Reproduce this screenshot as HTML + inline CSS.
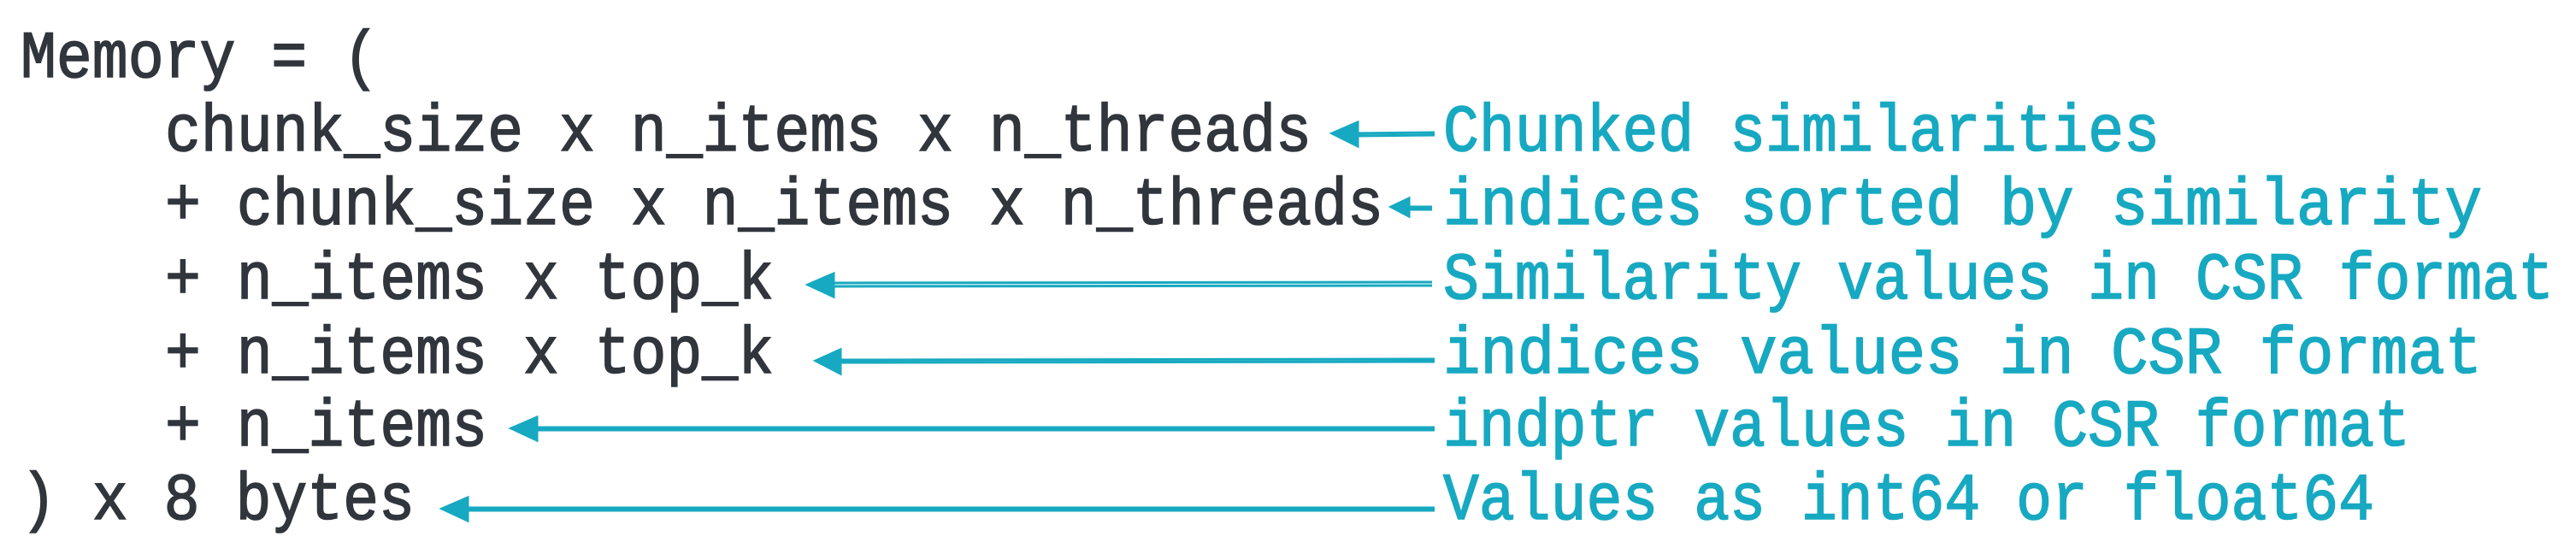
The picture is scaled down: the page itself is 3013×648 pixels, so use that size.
<!DOCTYPE html>
<html><head><meta charset="utf-8"><style>
html,body{margin:0;padding:0;background:#fff;}
svg{display:block;}
text{font-family:"Liberation Mono","DejaVu Sans Mono",monospace;font-size:78px;stroke-width:1.6px;}
.d{fill:#31353c;stroke:#31353c;}
.t{fill:#17a9c1;stroke:#17a9c1;}
</style></head><body>
<svg width="3013" height="648" viewBox="0 0 3013 648" xmlns="http://www.w3.org/2000/svg">
<text class="d" x="24" y="90" textLength="419" lengthAdjust="spacingAndGlyphs">Memory = (</text>
<text class="d" x="193" y="176" textLength="1341" lengthAdjust="spacingAndGlyphs">chunk_size x n_items x n_threads</text>
<text class="d" x="193" y="262" textLength="1425" lengthAdjust="spacingAndGlyphs">+ chunk_size x n_items x n_threads</text>
<text class="d" x="193" y="349" textLength="712" lengthAdjust="spacingAndGlyphs">+ n_items x top_k</text>
<text class="d" x="193" y="436" textLength="712" lengthAdjust="spacingAndGlyphs">+ n_items x top_k</text>
<text class="d" x="193" y="521" textLength="377" lengthAdjust="spacingAndGlyphs">+ n_items</text>
<text class="d" x="24" y="607" textLength="461" lengthAdjust="spacingAndGlyphs">) x 8 bytes</text>

<text class="t" x="1688" y="176" textLength="838" lengthAdjust="spacingAndGlyphs">Chunked similarities</text>
<text class="t" x="1688" y="262" textLength="1215" lengthAdjust="spacingAndGlyphs">indices sorted by similarity</text>
<text class="t" x="1688" y="349" textLength="1299" lengthAdjust="spacingAndGlyphs">Similarity values in CSR format</text>
<text class="t" x="1688" y="436" textLength="1215" lengthAdjust="spacingAndGlyphs">indices values in CSR format</text>
<text class="t" x="1688" y="521" textLength="1131" lengthAdjust="spacingAndGlyphs">indptr values in CSR format</text>
<text class="t" x="1688" y="607" textLength="1089" lengthAdjust="spacingAndGlyphs">Values as int64 or float64</text>

<g stroke="#17a9c1" stroke-width="3" fill="#17a9c1">
<line x1="1585" y1="156" x2="1678" y2="155"/><line x1="1585" y1="159" x2="1678" y2="158"/>
<polygon points="1558,156 1588,143 1588,171"/>
<line x1="1645" y1="242" x2="1675" y2="242"/><line x1="1645" y1="245" x2="1675" y2="245"/>
<polygon points="1627,242 1648,232 1648,253"/>
<line x1="970" y1="331" x2="1675" y2="330"/><line x1="970" y1="335" x2="1675" y2="334"/>
<polygon points="945,333 975,320 975,347"/>
<line x1="980" y1="421" x2="1678" y2="420"/><line x1="980" y1="424" x2="1678" y2="423"/>
<polygon points="954,422 983,409 983,437"/>
<line x1="625" y1="500" x2="1678" y2="500"/><line x1="625" y1="503" x2="1678" y2="503"/>
<polygon points="598,501 628,488 628,515"/>
<line x1="545" y1="594" x2="1678" y2="594"/><line x1="545" y1="597" x2="1678" y2="597"/>
<polygon points="517,595 547,582 547,609"/>
</g>
</svg>
</body></html>
